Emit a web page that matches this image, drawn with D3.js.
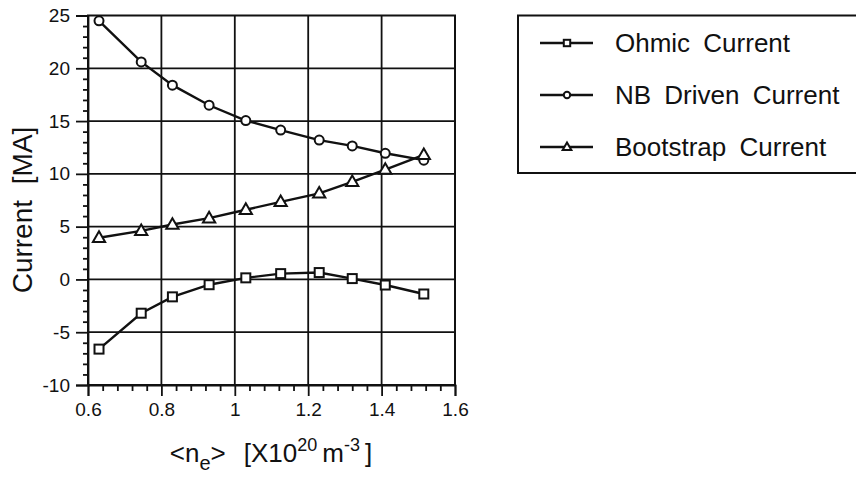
<!DOCTYPE html>
<html>
<head>
<meta charset="utf-8">
<script src="https://cdn.jsdelivr.net/npm/d3@7"></script>
<style>
  body { margin: 0; background: #fff; }
  svg { display: block; font-family: "Liberation Sans", Arial, Helvetica, sans-serif; }
  .grid line { stroke: #111; stroke-width: 1.8; }
  .axis path, .axis line { stroke: #111; stroke-width: 1.8; }
  .axis text { fill: #111; font-size: 19px; }
  .curve { fill: none; stroke: #111; stroke-width: 2.4; }
</style>
</head>
<body>
<div id="chart"></div>
<script>
// density <n_e> in 10^20 m^-3
const density = [0.63, 0.745, 0.83, 0.93, 1.03, 1.125, 1.23, 1.32, 1.41, 1.515];
// currents in MA
const ohmic     = [-6.6, -3.2, -1.65, -0.5, 0.15, 0.55, 0.65, 0.08, -0.53, -1.38];
const nbDriven  = [24.5, 20.6, 18.4, 16.5, 15.05, 14.15, 13.2, 12.65, 11.95, 11.3];
const bootstrap = [3.95, 4.6, 5.2, 5.8, 6.6, 7.35, 8.15, 9.25, 10.4, 11.8];
const seriesNames = ["Ohmic Current", "NB Driven Current", "Bootstrap Current"];
const xTicks = [0.6, 0.8, 1, 1.2, 1.4, 1.6];
const yTicks = [-10, -5, 0, 5, 10, 15, 20, 25];

const W = 856, H = 479;
const svg = d3.select("#chart").append("svg")
    .attr("width", W).attr("height", H);

const x = d3.scaleLinear().domain([0.6, 1.6]).range([88, 455]);
const y = d3.scaleLinear().domain([-10, 25]).range([385, 15.5]);

// minor tick positions
const xMinor = d3.range(0.6, 1.6001, 0.04).filter(v => Math.abs(v * 5 - Math.round(v * 5)) > 1e-6);
const yMinor = d3.range(-10, 25.001, 1).filter(v => v % 5 !== 0);

// gridlines
const grid = svg.append("g").attr("class", "grid");
grid.selectAll(".gx").data(xTicks.slice(1, -1)).enter().append("line")
    .attr("x1", d => x(d)).attr("x2", d => x(d))
    .attr("y1", y(25)).attr("y2", y(-10));
grid.selectAll(".gy").data(yTicks.slice(1, -1)).enter().append("line")
    .attr("x1", x(0.6)).attr("x2", x(1.6))
    .attr("y1", d => y(d)).attr("y2", d => y(d));

// frame
svg.append("rect")
    .attr("x", x(0.6)).attr("y", y(25))
    .attr("width", x(1.6) - x(0.6)).attr("height", y(-10) - y(25))
    .attr("fill", "none").attr("stroke", "#111").attr("stroke-width", 2);

// axes
svg.append("g").attr("class", "axis")
    .attr("transform", "translate(0," + y(-10) + ")")
    .call(d3.axisBottom(x).tickValues(xTicks).tickSize(11).tickPadding(7).tickFormat(d => String(d)));
svg.append("g").attr("class", "axis")
    .attr("transform", "translate(0," + y(-10) + ")")
    .call(d3.axisBottom(x).tickValues(xMinor).tickSize(6).tickFormat(""))
    .select(".domain").remove();
svg.append("g").attr("class", "axis")
    .attr("transform", "translate(" + x(0.6) + ",0)")
    .call(d3.axisLeft(y).tickValues(yTicks).tickSize(12).tickPadding(6).tickFormat(d => String(d)));
svg.append("g").attr("class", "axis")
    .attr("transform", "translate(" + x(0.6) + ",0)")
    .call(d3.axisLeft(y).tickValues(yMinor).tickSize(5).tickFormat(""))
    .select(".domain").remove();
svg.selectAll(".axis .domain").attr("stroke-width", 2);

// axis titles
svg.append("text")
    .attr("transform", "translate(32,210) rotate(-90)")
    .attr("text-anchor", "middle")
    .style("font-size", "28px").style("word-spacing", "8px").attr("fill", "#111")
    .text("Current [MA]");

const xt = svg.append("text")
    .attr("x", 271).attr("y", 462)
    .attr("text-anchor", "middle")
    .style("font-size", "26px").attr("fill", "#111");
xt.append("tspan").text("<n");
xt.append("tspan").attr("dy", 8).style("font-size", "20px").text("e");
xt.append("tspan").attr("dy", -8).text(">");
xt.append("tspan").attr("dx", 18).text("[X10");
xt.append("tspan").attr("dy", -11).style("font-size", "18px").text("20");
xt.append("tspan").attr("dy", 11).attr("dx", 5).text("m");
xt.append("tspan").attr("dy", -11).style("font-size", "18px").text("-3");
xt.append("tspan").attr("dy", 11).attr("dx", 5).text("]");

// markers
function drawMarker(g, type, cx, cy, s) {
  if (type === 0) {
    g.append("rect").attr("x", cx - s).attr("y", cy - s)
        .attr("width", 2 * s).attr("height", 2 * s);
  } else if (type === 1) {
    g.append("circle").attr("cx", cx).attr("cy", cy).attr("r", s);
  } else {
    g.append("path").attr("d", d3.symbol().type(d3.symbolTriangle).size(s * s * 3.2)())
        .attr("transform", "translate(" + cx + "," + (cy + s * 0.15) + ")");
  }
}

const series = [ohmic, nbDriven, bootstrap];
const line = d3.line().x(d => x(d[0])).y(d => y(d[1]));

series.forEach((vals, k) => {
  const pts = density.map((d, i) => [d, vals[i]]);
  svg.append("path").datum(pts).attr("class", "curve").attr("d", line);
  const mg = svg.append("g").attr("fill", "#fff").attr("stroke", "#111").attr("stroke-width", 2);
  pts.forEach(p => drawMarker(mg, k, x(p[0]), y(p[1]), 4.5));
});

// legend
const leg = svg.append("g");
leg.append("rect")
    .attr("x", 518).attr("y", 15.5).attr("width", 360).attr("height", 157.5)
    .attr("fill", "none").attr("stroke", "#111").attr("stroke-width", 2);
const legRows = [43, 95, 147];
seriesNames.forEach((name, k) => {
  const ry = legRows[k];
  leg.append("line").attr("x1", 540).attr("x2", 593).attr("y1", ry).attr("y2", ry)
      .attr("stroke", "#111").attr("stroke-width", 2.4);
  const mg = leg.append("g").attr("fill", "#fff").attr("stroke", "#111").attr("stroke-width", 2);
  drawMarker(mg, k, 567, ry, 3.2);
  leg.append("text").attr("x", 615).attr("y", ry + 9)
      .style("font-size", "26px").style("word-spacing", "6px").attr("fill", "#111")
      .text(name);
});
</script>
</body>
</html>
